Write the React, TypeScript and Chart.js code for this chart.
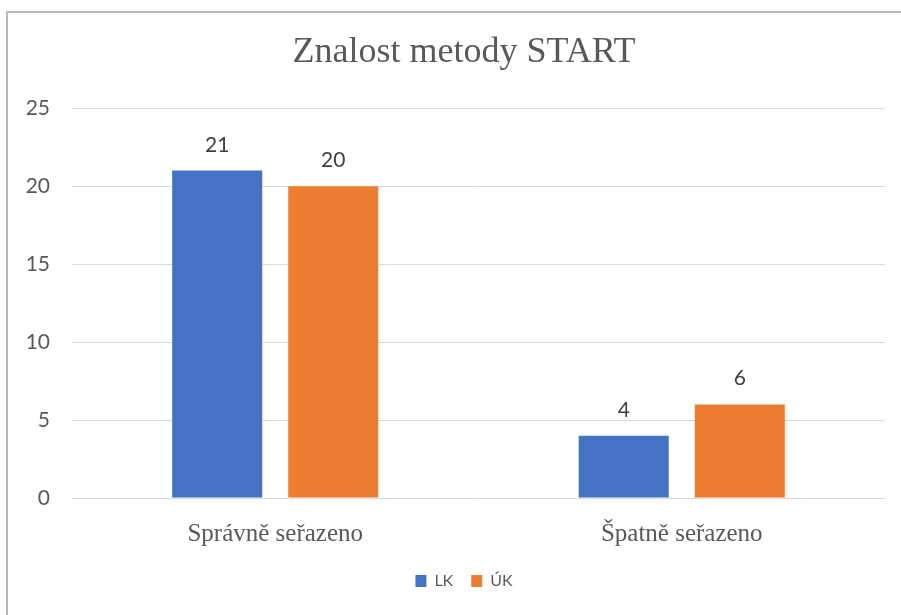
import React, { useEffect, useRef } from "react";
import { Chart, registerables } from "chart.js";

Chart.register(...registerables);

const categories = ["Správně seřazeno", "Špatně seřazeno"];
const seriesLK = [21, 4];
const seriesUK = [20, 6];
const seriesNames = ["LK", "ÚK"];
const yTicksMax = 25;
const yTicksStep = 5;
const chartTitle = "Znalost metody START";

const valueLabels = {
  id: "valueLabels",
  afterDatasetsDraw(chart: any) {
    const ctx = chart.ctx;
    ctx.save();
    ctx.font = "21px Lato";
    ctx.fillStyle = "#404040";
    ctx.textAlign = "center";
    ctx.textBaseline = "alphabetic";
    chart.data.datasets.forEach((ds: any, i: number) => {
      const meta = chart.getDatasetMeta(i);
      meta.data.forEach((bar: any, j: number) => {
        ctx.fillText(String(ds.data[j]), bar.x, bar.y - 19);
      });
    });
    ctx.restore();
  },
};

export default function App() {
  const ref = useRef<HTMLCanvasElement | null>(null);
  useEffect(() => {
    if (!ref.current) return;
    const chart = new Chart(ref.current, {
      type: "bar",
      data: {
        labels: categories,
        datasets: [
          { label: seriesNames[0], data: seriesLK, backgroundColor: "#4472C4", yAxisID: "y" },
          { label: seriesNames[1], data: seriesUK, backgroundColor: "#ED7D31", yAxisID: "y" },
        ],
      },
      options: {
        responsive: false,
        animation: false,
        devicePixelRatio: 1,
        datasets: { bar: { categoryPercentage: 0.571, barPercentage: 0.776 } },
        layout: { padding: { left: 0, right: 0, top: 0, bottom: 16 } },
        plugins: {
          tooltip: { enabled: false },
          title: {
            display: true,
            text: chartTitle,
            color: "#595959",
            font: { family: "Liberation Serif", size: 36, weight: "normal", lineHeight: 1.2 },
            padding: { top: 19, bottom: 34 },
          },
          legend: {
            position: "bottom",
            labels: {
              boxWidth: 11,
              boxHeight: 12,
              padding: 18,
              color: "#595959",
              font: { family: "Lato", size: 16 },
            },
          },
        },
        scales: {
          x: {
            grid: { display: false },
            border: { display: false },
            ticks: {
              color: "#595959",
              padding: 13,
              font: { family: "Liberation Serif", size: 25 },
            },
            afterFit(scale: any) {
              scale.height = 57;
            },
          },
          y: {
            min: 0,
            max: yTicksMax,
            position: "left",
            grid: { color: "#d9d9d9", lineWidth: 1, drawTicks: false },
            border: { display: false },
            ticks: {
              stepSize: yTicksStep,
              color: "#595959",
              padding: 22,
              font: { family: "Lato", size: 21 },
            },
            afterFit(scale: any) {
              scale.width = 64;
            },
          },
          y2: {
            position: "right",
            min: 0,
            max: yTicksMax,
            grid: { display: false },
            border: { display: false },
            ticks: { display: false },
            afterFit(scale: any) {
              scale.width = 35;
            },
          },
        },
      },
      plugins: [valueLabels],
    });
    return () => chart.destroy();
  }, []);

  return (
    <div>
      <div
        style={{
          position: "fixed",
          left: 6,
          top: 11,
          width: 2000,
          height: 2000,
          borderLeft: "2px solid #b8b8b8",
          borderTop: "2px solid #b8b8b8",
        }}
      />
      <canvas
        ref={ref}
        width={912}
        height={603}
        style={{ position: "fixed", left: 8, top: 12, width: 912, height: 603 }}
      />
    </div>
  );
}
